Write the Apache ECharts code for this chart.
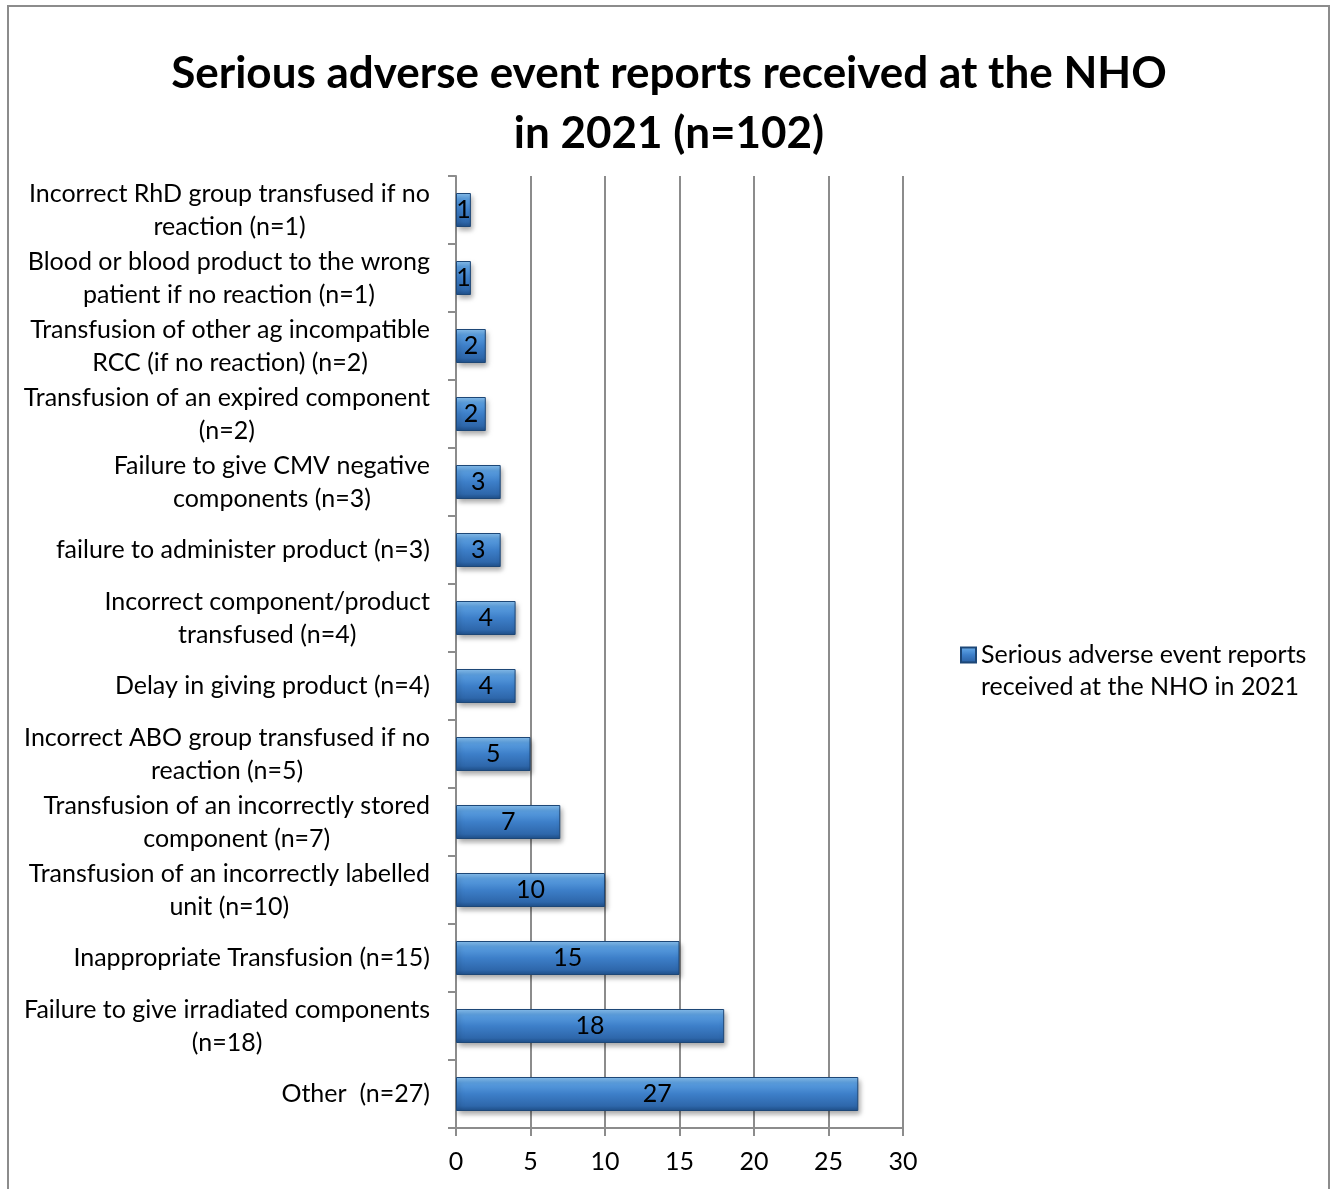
<!DOCTYPE html>
<html>
<head>
<meta charset="utf-8">
<script src="https://cdn.jsdelivr.net/npm/echarts@6/dist/echarts.min.js"></script>
<style>
html, body { margin: 0; padding: 0; background: #fff; }
#frame {
  position: absolute; left: 7px; top: 5px; width: 1323px; height: 1200px;
  border: 2px solid #8c8c8c; box-sizing: border-box;
}
#main { position: absolute; left: 0; top: 0; width: 1338px; height: 1189px; }
</style>
</head>
<body>
<div id="frame"></div>
<div id="main"></div>
<script>
// categories, top to bottom
var categories = [
  'Incorrect RhD group transfused if no\nreaction (n=1)',
  'Blood or blood product to the wrong\npatient if no reaction (n=1)',
  'Transfusion of other ag incompatible\nRCC (if no reaction) (n=2)',
  'Transfusion of an expired component\n(n=2)',
  'Failure to give CMV negative\ncomponents (n=3)',
  'failure to administer product (n=3)',
  'Incorrect component/product\ntransfused (n=4)',
  'Delay in giving product (n=4)',
  'Incorrect ABO group transfused if no\nreaction (n=5)',
  'Transfusion of an incorrectly stored\ncomponent (n=7)',
  'Transfusion of an incorrectly labelled\nunit (n=10)',
  'Inappropriate Transfusion (n=15)',
  'Failure to give irradiated components\n(n=18)',
  'Other  (n=27)'
];
var reports = [1, 1, 2, 2, 3, 3, 4, 4, 5, 7, 10, 15, 18, 27];
var seriesName = 'Serious adverse event reports\nreceived at the NHO in 2021';

var font = 'Lato, "Open Sans", sans-serif';
var chart = echarts.init(document.getElementById('main'));

var barColor = new echarts.graphic.LinearGradient(0, 0, 0, 1, [
  { offset: 0, color: '#8cc4f2' },
  { offset: 0.18, color: '#5a9ee0' },
  { offset: 0.5, color: '#3d7fc9' },
  { offset: 0.85, color: '#2e67ab' },
  { offset: 1, color: '#1f4f88' }
]);

var option = {
  animation: false,
  title: {
    text: 'Serious adverse event reports received at the NHO\nin 2021 (n=102)',
    left: 'center',
    top: 39,
    textStyle: {
      fontFamily: font,
      fontSize: 44,
      fontWeight: 'bold',
      color: '#000',
      lineHeight: 60
    }
  },
  legend: {
    left: 955,
    top: 602,
    orient: 'vertical',
    itemWidth: 15,
    itemHeight: 15,
    icon: 'rect',
    data: [seriesName],
    // empty first line so the icon sits level with the first text line
    formatter: function (name) { return '\n' + name; },
    textStyle: { fontFamily: font, fontSize: 25, color: '#000', lineHeight: 32 }
  },
  grid: { left: 456, right: 435, top: 176, bottom: 61 },
  xAxis: {
    type: 'value',
    min: 0,
    max: 30,
    interval: 5,
    axisLine: { show: true, lineStyle: { color: '#8c8c8c', width: 2 } },
    axisTick: { show: true, length: 8, lineStyle: { color: '#8c8c8c', width: 2 } },
    splitLine: { show: true, lineStyle: { color: '#8c8c8c', width: 2 } },
    axisLabel: { fontFamily: font, fontSize: 25, color: '#000', margin: 21 }
  },
  yAxis: {
    type: 'category',
    inverse: true,
    data: categories,
    axisLine: { show: true, lineStyle: { color: '#8c8c8c', width: 2 } },
    axisTick: { show: true, length: 8, lineStyle: { color: '#8c8c8c', width: 2 } },
    axisLabel: {
      margin: 26,
      align: 'right',
      formatter: function (v) {
        return v.split('\n').map(function (s) { return '{c|' + s + '}'; }).join('\n');
      },
      rich: {
        c: { align: 'center', fontFamily: font, fontSize: 25, color: '#000', lineHeight: 33 }
      }
    }
  },
  series: [{
    name: seriesName,
    type: 'bar',
    data: reports,
    barWidth: 34,
    itemStyle: {
      color: barColor,
      borderColor: '#1d4777',
      borderWidth: 1,
      shadowColor: 'rgba(0,0,0,0.35)',
      shadowBlur: 5,
      shadowOffsetX: 2,
      shadowOffsetY: 3
    },
    label: {
      show: true,
      position: 'inside',
      fontFamily: font,
      fontSize: 25,
      color: '#000'
    }
  }]
};

chart.setOption(option);
</script>
</body>
</html>
